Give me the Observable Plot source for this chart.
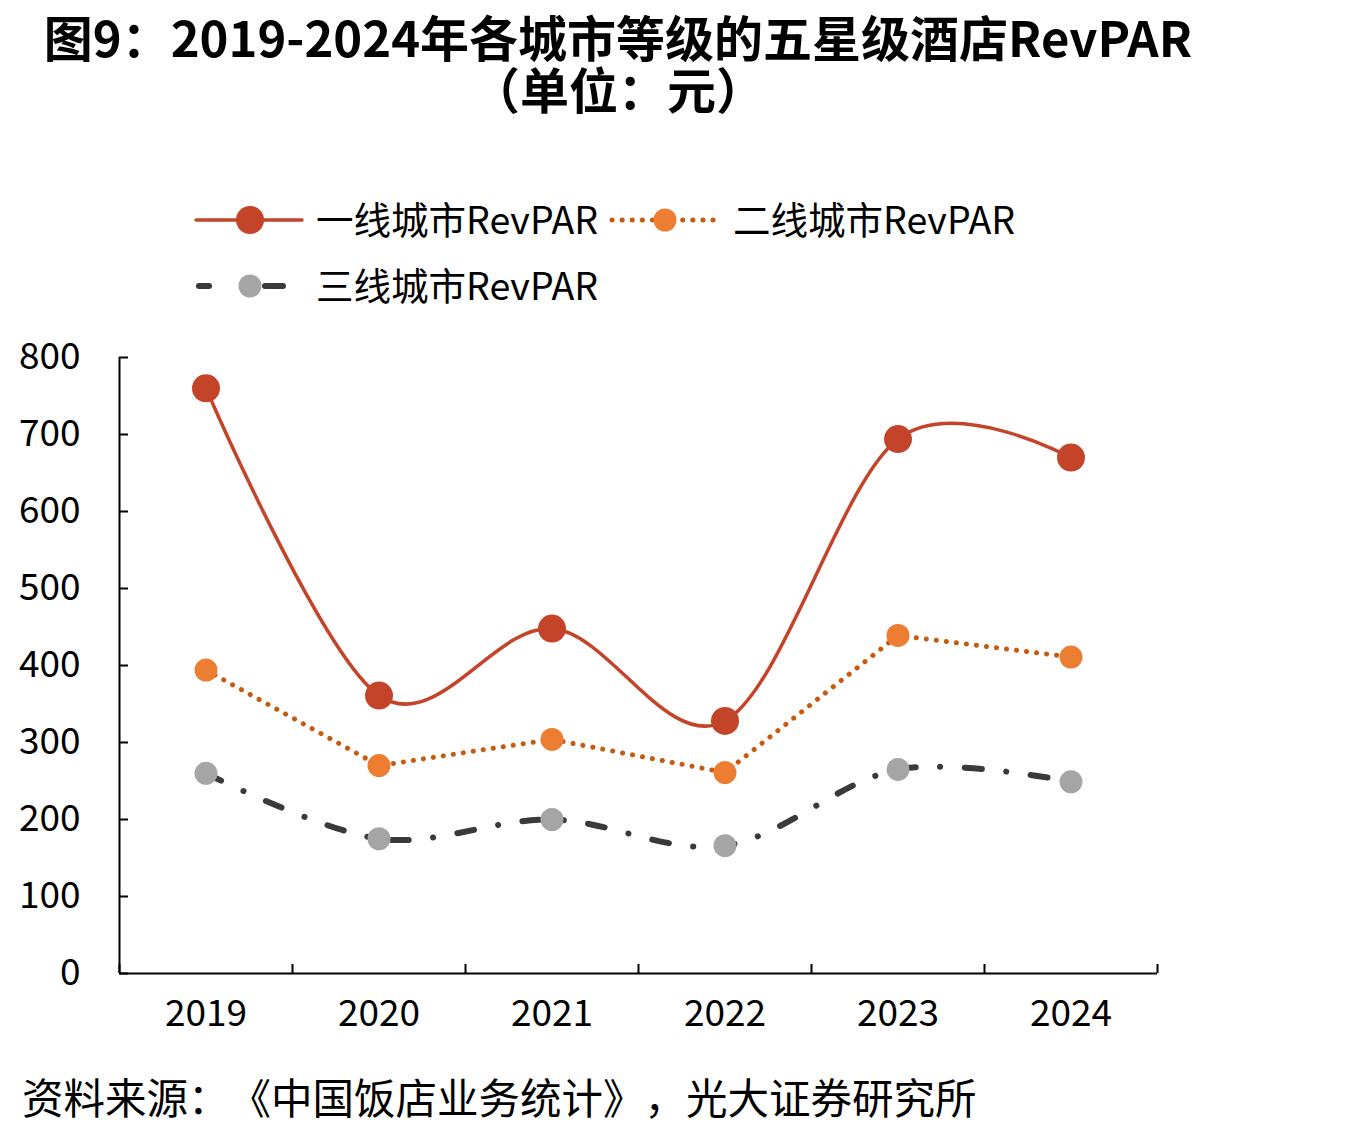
<!DOCTYPE html>
<html><head><meta charset="utf-8">
<script src="https://cdn.jsdelivr.net/npm/d3@7"></script>
<script src="https://cdn.jsdelivr.net/npm/@observablehq/plot@0.6"></script>
<style>
body{margin:0;background:#fff;font-family:"Noto Sans CJK SC","Noto Sans",sans-serif;color:#000;}
#page{position:relative;width:1356px;height:1131px;overflow:hidden;background:#fff;text-spacing-trim:space-all;}
#title{position:absolute;left:0;top:10px;width:1236px;text-align:center;font-weight:700;font-size:49px;line-height:52px;white-space:nowrap;text-spacing-trim:space-all;}
.leg{position:absolute;font-size:37.5px;line-height:37px;white-space:nowrap;}
#caption{position:absolute;left:22px;top:1076px;font-size:41.5px;line-height:41px;white-space:nowrap;text-spacing-trim:space-all;}
#chart{position:absolute;left:0;top:330px;}
#legsvg{position:absolute;left:0;top:190px;}
</style></head>
<body><div id="page">
<div id="title">图9：2019-2024年各城市等级的五星级酒店RevPAR<br>（单位：元）</div>
<div id="legend"></div>
<div id="chart"></div>
<div id="caption">资料来源：《中国饭店业务统计》，光大证券研究所</div>
</div>
<script>
const years = [2019, 2020, 2021, 2022, 2023, 2024];
const tier1 = [760, 361, 448, 328, 694, 670];
const tier2 = [394, 270, 304, 261, 439, 411];
const tier3 = [260, 175, 200, 166, 265, 249];
const seriesNames = ["一线城市RevPAR", "二线城市RevPAR", "三线城市RevPAR"];
const yTicks = [0, 100, 200, 300, 400, 500, 600, 700, 800];

const styles = [
  {line: "#C4442A", width: 3.5, dash: null, dot: "#C4442A", r: 14, curve: "cardinal"},
  {line: "#C55A11", width: 5, dash: "0.1 10", dot: "#ED7D31", r: 11.5, curve: "linear"},
  {line: "#3A3A3A", width: 6, dash: "17 24.5 0.1 24.5", dot: "#A5A5A5", r: 11.5, curve: "cardinal"}
];

const data = [tier1, tier2, tier3].flatMap((vals, i) =>
  vals.map((v, j) => ({year: years[j], value: v, series: seriesNames[i]})));
const bounds = [years[0] - 0.5, ...years.map(y => y + 0.5)];

const seriesMarks = seriesNames.flatMap((name, i) => {
  const s = styles[i];
  const d = data.filter(r => r.series === name);
  return [
    Plot.line(d, {x: "year", y: "value", curve: s.curve, tension: 0,
      stroke: s.line, strokeWidth: s.width, strokeDasharray: s.dash,
      strokeLinecap: "round", strokeLinejoin: "round"}),
    Plot.dot(d, {x: "year", y: "value", r: s.r, fill: s.dot, stroke: "none"})
  ];
});

const chart = Plot.plot({
  width: 1356, height: 740,
  marginTop: 27, marginBottom: 97, marginLeft: 119, marginRight: 199,
  x: {domain: [bounds[0], bounds[bounds.length - 1]]},
  y: {domain: [0, 800]},
  style: {fontFamily: '"Noto Sans CJK SC", "Noto Sans", sans-serif', fontSize: "37px", color: "#000", background: "transparent", overflow: "visible"},
  marks: [
    Plot.axisY({ticks: yTicks, tickSize: 0, tickPadding: 39, label: null, fontSize: 37}),
    Plot.axisY({ticks: yTicks, tickSize: -9, tickFormat: () => "", label: null, strokeWidth: 2}),
    Plot.axisX({ticks: years, tickSize: 0, tickPadding: 26, tickFormat: d => String(d), label: null, fontSize: 37}),
    Plot.axisX({ticks: bounds, tickSize: -9, tickFormat: () => "", label: null, strokeWidth: 2}),
    Plot.ruleX([bounds[0]], {y1: 0, y2: 800, strokeWidth: 2}),
    Plot.ruleY([0], {strokeWidth: 2}),
    ...seriesMarks
  ]
});
document.getElementById("chart").appendChild(chart);

// legend
const svgNS = "http://www.w3.org/2000/svg";
const legendItems = [
  {segs: [[196, 302]], cx: 250, tx: 316, cy: 220, dash: null},
  {segs: [[612, 718]], cx: 665, tx: 733, cy: 220, dash: "0.1 10"},
  {segs: [[199, 209], [265, 283]], cx: 250, tx: 316, cy: 286, dash: null}
];
const legend = document.getElementById("legend");
const lsvg = document.createElementNS(svgNS, "svg");
lsvg.setAttribute("width", 1356); lsvg.setAttribute("height", 130);
lsvg.setAttribute("id", "legsvg");
legendItems.forEach((it, i) => {
  const s = styles[i];
  const y = it.cy - 190;
  it.segs.forEach(([a, b]) => {
    const ln = document.createElementNS(svgNS, "line");
    ln.setAttribute("x1", a); ln.setAttribute("x2", b);
    ln.setAttribute("y1", y); ln.setAttribute("y2", y);
    ln.setAttribute("stroke", s.line); ln.setAttribute("stroke-width", s.width);
    ln.setAttribute("stroke-linecap", "round");
    if (it.dash) ln.setAttribute("stroke-dasharray", it.dash);
    lsvg.appendChild(ln);
  });
  const c = document.createElementNS(svgNS, "circle");
  c.setAttribute("cx", it.cx); c.setAttribute("cy", y); c.setAttribute("r", s.r);
  c.setAttribute("fill", s.dot);
  lsvg.appendChild(c);
  const t = document.createElement("div");
  t.className = "leg";
  t.style.left = it.tx + "px";
  t.style.top = (it.cy - 21) + "px";
  t.textContent = seriesNames[i];
  legend.appendChild(t);
});
legend.appendChild(lsvg);
</script>
</body></html>
